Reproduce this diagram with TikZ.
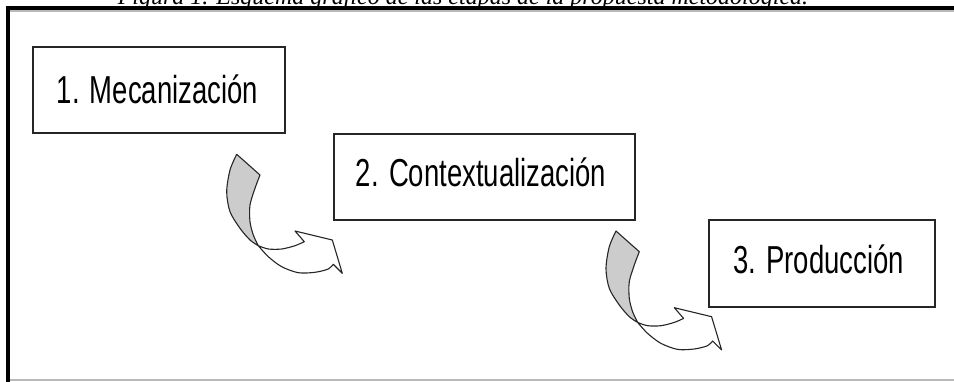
\documentclass[tikz,border=0pt]{standalone}
\usepackage{fontspec}
\setmainfont{Liberation Serif}
\newfontfamily\boxfont{Liberation Sans}
\begin{document}
\begin{tikzpicture}[x=1pt,y=-1pt,
  stagebox/.style={draw=black!85, line width=1.4pt, fill=white, inner sep=0pt,
    text height=27.5pt, font=\boxfont\fontsize{39}{40}\selectfont},
  arrline/.style={draw=black!85, line width=1.1pt, line join=round},
  frameline/.style={black, line width=4pt},
  shadowline/.style={gray!55, line width=1.5pt},
  curvarrow/.pic={
    \filldraw[arrline, fill=gray!40]
      plot[smooth] coordinates {(236.7,154.3) (230,170) (226.7,191.7) (230,211.7) (240,228.3) (250,240) (258.3,245.7)}
      -- plot[smooth] coordinates {(258.3,245.7) (253.3,235) (250,221.7) (250,205) (255,188.3) (260,175)}
      -- cycle;
    \filldraw[arrline, fill=white]
      plot[smooth] coordinates {(258.3,245.7) (268.3,249) (281.7,249) (295,245.7) (304.3,241.7)}
      -- (295,231) -- (332.3,240) -- (342.3,273.3) -- (333.3,264.3)
      -- plot[smooth] coordinates {(333.3,264.3) (328.3,269) (315,272.3) (298.3,272.7) (281.7,266.7) (268.3,256.7) (258.3,245.7)}
      -- cycle;
  }]
\useasboundingbox (0,0) rectangle (954,382);
\node[anchor=base, font=\itshape\fontsize{24}{26}\selectfont] (title) at (463,4.5)
  {Figura 1. Esquema gráfico de las etapas de la propuesta metodológica.};
\draw[frameline] (5.5,8.5) -- (954,8.5);
\draw[shadowline] (9.5,11.2) -- (954,11.2);
\draw[frameline] (7.5,6.5) -- (7.5,382);
\draw[shadowline] (9.5,380) -- (954,380);
\node[stagebox, minimum width=252pt, minimum height=86pt, text depth=0pt] (b1) at (159,90)
  {\scalebox{0.705}[1]{1. Mecanización}\hspace*{3pt}};
\node[stagebox, minimum width=301pt, minimum height=86pt, text depth=9pt] (b2) at (484.5,177)
  {\scalebox{0.705}[1]{2. Contextualización}\hspace*{7pt}};
\node[stagebox, minimum width=226pt, minimum height=87pt, text depth=8pt] (b3) at (822,263.5)
  {\scalebox{0.705}[1]{3. Producción}\hspace*{7pt}};
\pic (arr1) at (0,0) {curvarrow};
\pic (arr2) at (379.3,76.7) {curvarrow};
\end{tikzpicture}
\end{document}
